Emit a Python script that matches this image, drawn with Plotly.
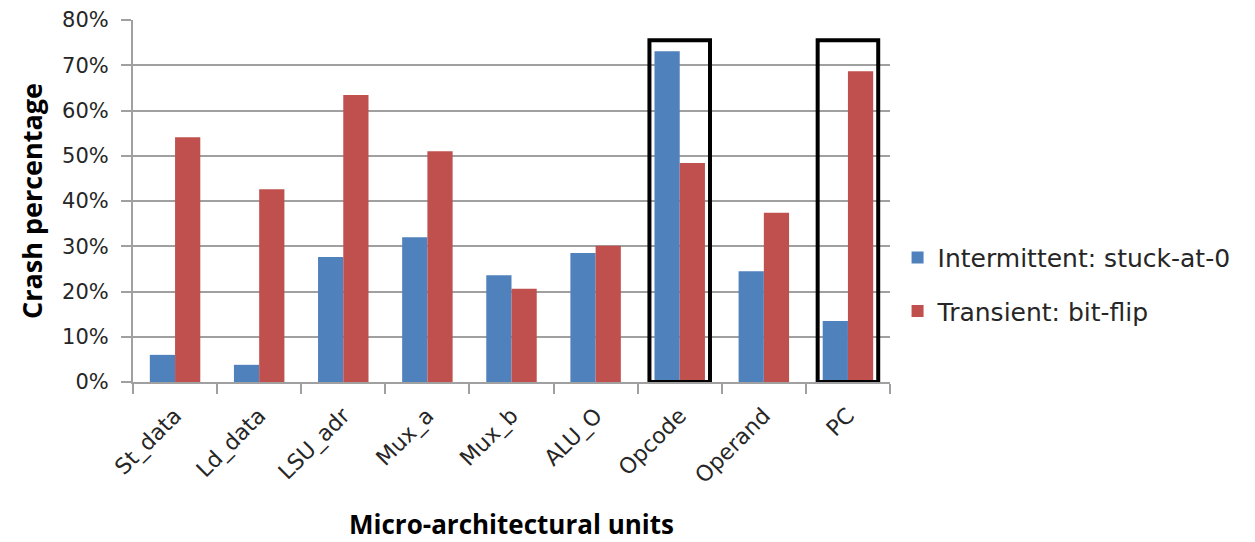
import plotly.graph_objects as go

units = ["St_data", "Ld_data", "LSU_adr", "Mux_a", "Mux_b", "ALU_O", "Opcode", "Operand", "PC"]
intermittent = [0.060, 0.038, 0.276, 0.320, 0.236, 0.285, 0.731, 0.245, 0.135]
transient = [0.541, 0.426, 0.634, 0.510, 0.206, 0.301, 0.484, 0.374, 0.687]
highlighted = ["Opcode", "PC"]
y_ticks = [0, 0.1, 0.2, 0.3, 0.4, 0.5, 0.6, 0.7, 0.8]
y_tick_labels = ["0%", "10%", "20%", "30%", "40%", "50%", "60%", "70%", "80%"]

FONT = "DejaVu Sans, sans-serif"
TFONT = "Open Sans, sans-serif"
TXT = "#262626"

fig = go.Figure()
fig.add_trace(go.Bar(x=units, y=intermittent, name="Intermittent: stuck-at-0",
                     marker=dict(color="#4F81BD", line=dict(width=0)), legendgroup="a"))
fig.add_trace(go.Bar(x=units, y=transient, name="Transient: bit-flip",
                     marker=dict(color="#C0504D", line=dict(width=0)), legendgroup="b"))

for u in highlighted:
    i = units.index(u)
    fig.add_shape(type="rect", xref="x", yref="y", x0=i - 0.36, x1=i + 0.36,
                  y0=0, y1=0.755, line=dict(color="black", width=4), fillcolor="rgba(0,0,0,0)")

fig.update_layout(
    width=1255, height=542,
    margin=dict(l=133, r=365, t=20, b=160),
    plot_bgcolor="white", paper_bgcolor="white",
    barmode="group", bargap=0.4, bargroupgap=0,
    font=dict(family=FONT, size=21, color=TXT),
    legend=dict(x=1.01, y=0.27, xanchor="left", yanchor="middle",
                traceorder="grouped", tracegroupgap=18,
                font=dict(family=FONT, size=25, color=TXT)),
    xaxis=dict(
        automargin=False,
        tickangle=-45, tickfont=dict(family=FONT, size=22, color=TXT),
        showline=True, linecolor="#a0a0a0", linewidth=2,
        ticks="outside", ticklen=10, tickcolor="#a0a0a0", tickwidth=2,
        tickson="boundaries", ticklabelstandoff=10,
        title=dict(text="<b>Micro-architectural units</b>", font=dict(family=TFONT, size=26, color="#000"), standoff=34),
    ),
    yaxis=dict(
        automargin=False,
        range=[0, 0.8], tickvals=y_ticks, ticktext=y_tick_labels,
        tickfont=dict(family=FONT, size=21, color=TXT),
        showgrid=True, gridcolor="#a0a0a0", gridwidth=2,
        showline=True, linecolor="#a0a0a0", linewidth=2,
        ticks="outside", ticklen=10, tickcolor="#a0a0a0", tickwidth=2,
        ticklabelstandoff=8,
        zeroline=False,
        title=dict(text="<b>Crash percentage</b>", font=dict(family=TFONT, size=27, color="#000"), standoff=12),
    ),
)

fig.write_html("out.html")
